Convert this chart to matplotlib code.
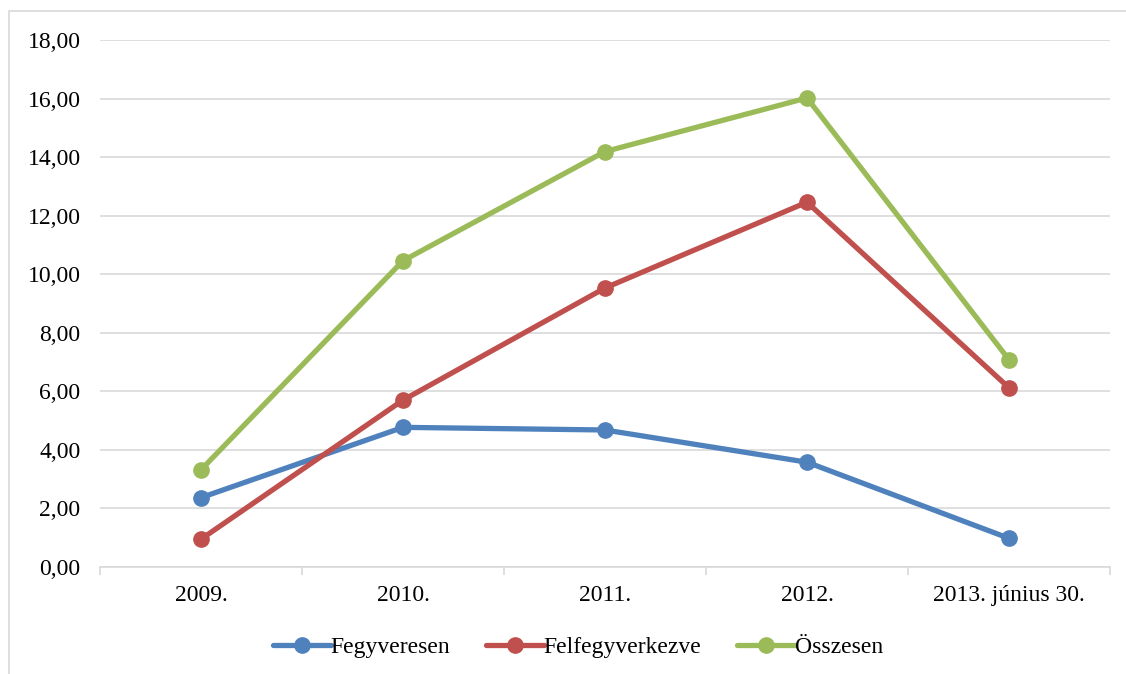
import numpy as np
import matplotlib.pyplot as plt
from matplotlib.patches import Rectangle

plt.rcParams['font.family'] = ['Liberation Serif', 'DejaVu Serif']

years = ['2009.', '2010.', '2011.', '2012.', '2013. június 30.']
fegyveresen = [2.37, 4.77, 4.68, 3.58, 0.98]
felfegyverkezve = [0.95, 5.70, 9.53, 12.46, 6.12]
osszesen = [3.32, 10.46, 14.19, 16.02, 7.08]

names = ['Fegyveresen', 'Felfegyverkezve', 'Összesen']
colors = ['#4F81BD', '#C0504D', '#9BBB59']

fig = plt.figure(figsize=(11.26, 6.74), dpi=100)
ax = fig.add_axes([100/1126, 1 - 567/674, 1010/1126, 527/674])

# chart border (runs off the right and bottom of the image)
fig.patches.append(Rectangle((9/1126, -0.05), 1.1, 1 - 11/674 + 0.05,
                             transform=fig.transFigure, fill=False,
                             edgecolor='#D9D9D9', lw=1.2))

x = np.arange(len(years))
for vals, name, c in zip([fegyveresen, felfegyverkezve, osszesen], names, colors):
    ax.plot(x, vals, color=c, lw=3.8, marker='o', ms=11, label=name,
            solid_capstyle='round')

ax.set_ylim(0, 18)
ax.set_yticks(np.arange(0, 18.1, 2))
ax.set_yticklabels([f'{v:.2f}'.replace('.', ',') for v in np.arange(0, 18.1, 2)])
ax.set_xlim(-0.5, len(years) - 0.5)
ax.set_xticks(x)
ax.set_xticklabels(years)
ax.set_xticks(np.arange(-0.5, len(years)), minor=True)
ax.tick_params(axis='x', which='major', length=0, pad=13, labelsize=17)
ax.tick_params(axis='x', which='minor', length=6, color='#D9D9D9', width=1.2)
ax.tick_params(axis='y', length=0, pad=14, labelsize=17)

ax.grid(axis='y', color='#D9D9D9', lw=1.2)
ax.set_axisbelow(True)
for s in ['top', 'right', 'left']:
    ax.spines[s].set_visible(False)
ax.spines['bottom'].set_color('#D9D9D9')
ax.spines['bottom'].set_linewidth(1.2)

ax.legend(loc='center', bbox_to_anchor=(0.473, -0.152), ncol=3, frameon=False,
          fontsize=17, handlelength=2.45, handletextpad=0.0, columnspacing=1.5)

fig.savefig('out.png', dpi=100)
